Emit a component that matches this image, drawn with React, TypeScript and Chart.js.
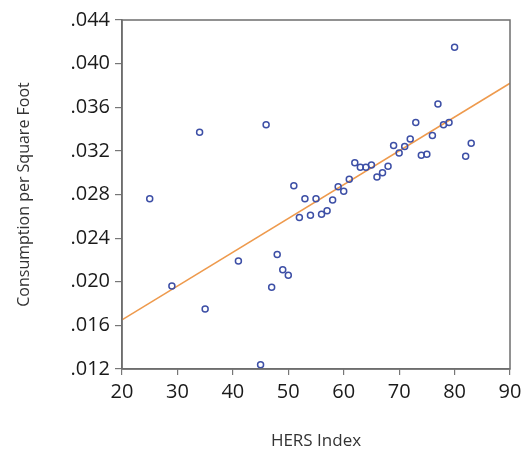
import React, { useEffect, useRef } from "react";
import { Chart, registerables } from "chart.js";

Chart.register(...registerables);

const hersIndex = [80, 34, 46, 77, 73, 78, 79, 76, 83, 82, 72, 71, 69, 70, 74, 75, 62, 63, 64, 65, 68, 67, 66, 61, 51, 59, 60, 25, 53, 55, 58, 52, 54, 56, 57, 48, 41, 49, 50, 29, 47, 35, 45];
const consumption = [0.0415, 0.0337, 0.0344, 0.0363, 0.0346, 0.0344, 0.0346, 0.0334, 0.0327, 0.0315, 0.0331, 0.0324, 0.0325, 0.0318, 0.0316, 0.0317, 0.0309, 0.0305, 0.0305, 0.0307, 0.0306, 0.0300, 0.0296, 0.0294, 0.0288, 0.0287, 0.0283, 0.0276, 0.0276, 0.0276, 0.0275, 0.0259, 0.0261, 0.0262, 0.0265, 0.0225, 0.0219, 0.0211, 0.0206, 0.0196, 0.0195, 0.0175, 0.0124];
const fitX = [20, 90];
const fitY = [0.0165, 0.0382];

const xTitle = "HERS Index";
const yTitle = "Consumption per Square Foot";

const boxPlugin = {
  id: "plotBox",
  afterDraw(chart: any) {
    const { ctx, chartArea } = chart;
    ctx.save();
    ctx.strokeStyle = "#6e6e6e";
    ctx.lineWidth = 1.5;
    ctx.strokeRect(chartArea.left, chartArea.top, chartArea.right - chartArea.left, chartArea.bottom - chartArea.top);
    ctx.restore();
  },
};

export default function App() {
  const ref = useRef<HTMLCanvasElement | null>(null);
  useEffect(() => {
    if (!ref.current) return;
    const font = "'Open Sans', sans-serif";
    const chart = new Chart(ref.current, {
      type: "scatter",
      data: {
        datasets: [
          {
            type: "line",
            data: fitX.map((x, i) => ({ x, y: fitY[i] })),
            borderColor: "#ee9a4d",
            borderWidth: 1.5,
            pointRadius: 0,
            fill: false,
            order: 2,
          },
          {
            data: hersIndex.map((x, i) => ({ x, y: consumption[i] })),
            borderColor: "#3d4fa6",
            backgroundColor: "rgba(255,255,255,0)",
            borderWidth: 1.5,
            pointRadius: 3,
            order: 1,
          },
        ],
      },
      options: {
        animation: false,
        responsive: false,
        layout: { padding: { top: 20, right: 20, left: 0, bottom: 0 } },
        plugins: { legend: { display: false }, tooltip: { enabled: false } },
        scales: {
          x: {
            type: "linear",
            min: 20,
            max: 90,
            ticks: { stepSize: 10, color: "#1a1a1a", font: { family: font, size: 20 }, padding: 5, maxRotation: 0 },
            grid: { drawOnChartArea: false, drawTicks: true, tickLength: 6, color: "#777", lineWidth: 1.2 },
            border: { color: "#6e6e6e", width: 1.5 },
            title: { display: true, text: xTitle, color: "#333", font: { family: font, size: 17 }, padding: { top: 4, bottom: 4 } },
            afterFit(axis: any) { axis.height = 86; },
          },
          y: {
            type: "linear",
            min: 0.012,
            max: 0.044,
            ticks: {
              stepSize: 0.004,
              color: "#1a1a1a",
              font: { family: font, size: 20 },
              padding: 5,
              callback: (v: any) => Number(v).toFixed(3).replace(/^0/, ""),
            },
            grid: { drawOnChartArea: false, drawTicks: true, tickLength: 7, color: "#777", lineWidth: 1.2 },
            border: { color: "#6e6e6e", width: 1.5 },
            title: { display: true, text: yTitle, color: "#333", font: { family: font, size: 16 }, padding: { top: 15, bottom: 4 } },
            afterFit(axis: any) { axis.width = 122; },
          },
        },
      },
      plugins: [boxPlugin],
    });
    return () => chart.destroy();
  }, []);
  return (
    <div style={{ position: "fixed", left: 0, top: 0, width: 530, height: 455, background: "#fff" }}>
      <canvas ref={ref} width={530} height={455} style={{ width: 530, height: 455 }} />
    </div>
  );
}
